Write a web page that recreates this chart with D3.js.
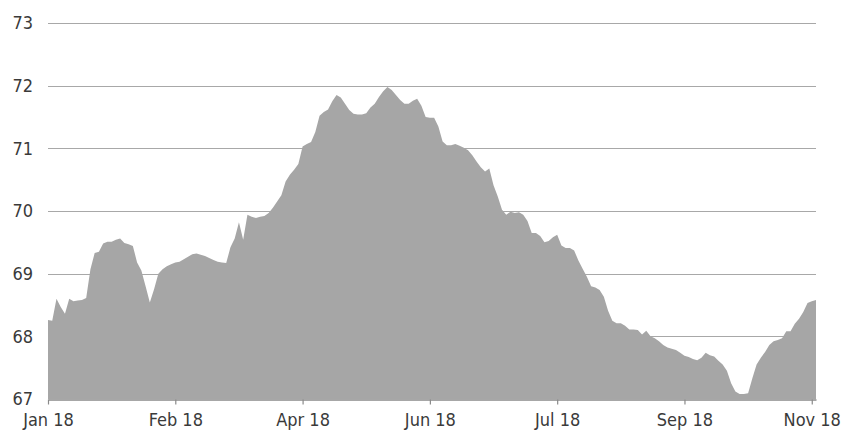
<!DOCTYPE html>
<html>
<head>
<meta charset="utf-8">
<script src="https://cdn.jsdelivr.net/npm/d3@7"></script>
<style>
  html, body { margin: 0; padding: 0; background: #fff; }
  svg { display: block; }
  text { font-family: "DejaVu Sans Condensed", "DejaVu Sans", sans-serif; font-stretch: condensed; fill: #3a3a3a; }
</style>
</head>
<body>
<svg id="chart" width="841" height="434"></svg>
<script>
// Daily series, Jan 2018 – Nov 2018 (one value per trading-day step)
const values = [
  68.26, 68.25, 68.60, 68.47, 68.36, 68.60, 68.56, 68.57, 68.58, 68.61,
  69.07, 69.33, 69.35, 69.48, 69.51, 69.51, 69.54, 69.56, 69.49, 69.47,
  69.44, 69.18, 69.05, 68.80, 68.54, 68.75, 69.00, 69.07, 69.12, 69.15,
  69.18, 69.19, 69.23, 69.27, 69.31, 69.32, 69.30, 69.28, 69.25, 69.22,
  69.19, 69.18, 69.17, 69.42, 69.56, 69.82, 69.54, 69.94, 69.91, 69.89,
  69.91, 69.92, 69.97, 70.05, 70.15, 70.25, 70.47, 70.58, 70.66, 70.75,
  71.03, 71.07, 71.10, 71.26, 71.52, 71.58, 71.62, 71.75, 71.85, 71.81,
  71.71, 71.61, 71.55, 71.54, 71.54, 71.56, 71.65, 71.71, 71.82, 71.91,
  71.98, 71.93, 71.85, 71.77, 71.71, 71.71, 71.76, 71.79, 71.68, 71.50,
  71.49, 71.49, 71.35, 71.11, 71.05, 71.05, 71.07, 71.04, 71.01, 70.97,
  70.89, 70.79, 70.70, 70.63, 70.68, 70.41, 70.23, 70.02, 69.94, 69.99,
  69.97, 69.98, 69.94, 69.84, 69.65, 69.65, 69.60, 69.50, 69.52, 69.58,
  69.62, 69.45, 69.41, 69.41, 69.37, 69.21, 69.08, 68.95, 68.80, 68.78,
  68.74, 68.63, 68.41, 68.25, 68.21, 68.21, 68.17, 68.11, 68.11, 68.10,
  68.03, 68.09, 68.00, 67.97, 67.92, 67.86, 67.82, 67.80, 67.78, 67.74,
  67.69, 67.67, 67.64, 67.62, 67.66, 67.74, 67.70, 67.68, 67.61, 67.55,
  67.45, 67.25, 67.12, 67.08, 67.08, 67.09, 67.33, 67.55, 67.66, 67.75,
  67.86, 67.92, 67.94, 67.97, 68.08, 68.08, 68.20, 68.28, 68.39, 68.53,
  68.56, 68.58
];

// Category-axis labels, one every 30 steps
const tickLabels = ["Jan 18", "Feb 18", "Apr 18", "Jun 18", "Jul 18", "Sep 18", "Nov 18"];
const tickStep = 30;
const yTicks = [67, 68, 69, 70, 71, 72, 73];

const margin = { left: 48, right: 25, top: 23, bottom: 35 };
const W = 841, H = 434;
const svg = d3.select("#chart");

const x = d3.scaleLinear()
  .domain([0, values.length - 1])
  .range([margin.left, W - margin.right]);

const y = d3.scaleLinear()
  .domain([67, 73])
  .range([H - margin.bottom, margin.top]);

// Horizontal gridlines
svg.append("g")
  .selectAll("line")
  .data(yTicks.filter(d => d > 67))
  .join("line")
  .attr("x1", x.range()[0])
  .attr("x2", x.range()[1])
  .attr("y1", d => Math.round(y(d)) + 0.5)
  .attr("y2", d => Math.round(y(d)) + 0.5)
  .attr("stroke", "#a8a8a8")
  .attr("stroke-width", 1.2);

// Filled area
const area = d3.area()
  .x((d, i) => x(i))
  .y0(y(67))
  .y1(d => y(d));

svg.append("path")
  .datum(values)
  .attr("d", area)
  .attr("fill", "#a6a6a6");

// Y axis labels
const yAxis = d3.axisLeft(y)
  .tickValues(yTicks)
  .tickFormat(d3.format("d"))
  .tickSize(0)
  .tickPadding(15);

svg.append("g")
  .attr("transform", `translate(${margin.left},0)`)
  .call(yAxis)
  .call(g => g.select(".domain").remove())
  .call(g => g.selectAll("text")
    .attr("font-size", 18)
    .attr("font-family", null)
    .attr("fill", "#3a3a3a"));

// X axis with category labels
const xAxis = d3.axisBottom(x)
  .tickValues(tickLabels.map((_, i) => i * tickStep))
  .tickFormat((d, i) => tickLabels[i])
  .tickSize(5)
  .tickSizeOuter(0)
  .tickPadding(9);

svg.append("g")
  .attr("transform", `translate(0,${Math.round(y(67)) + 0.5})`)
  .call(xAxis)
  .call(g => g.select(".domain").attr("stroke", "#8a8a8a").attr("stroke-width", 1.5))
  .call(g => g.selectAll(".tick line").attr("stroke", "#8a8a8a").attr("stroke-width", 1.2))
  .call(g => g.selectAll("text")
    .attr("font-size", 18)
    .attr("font-family", null)
    .attr("fill", "#3a3a3a"));
</script>
</body>
</html>
